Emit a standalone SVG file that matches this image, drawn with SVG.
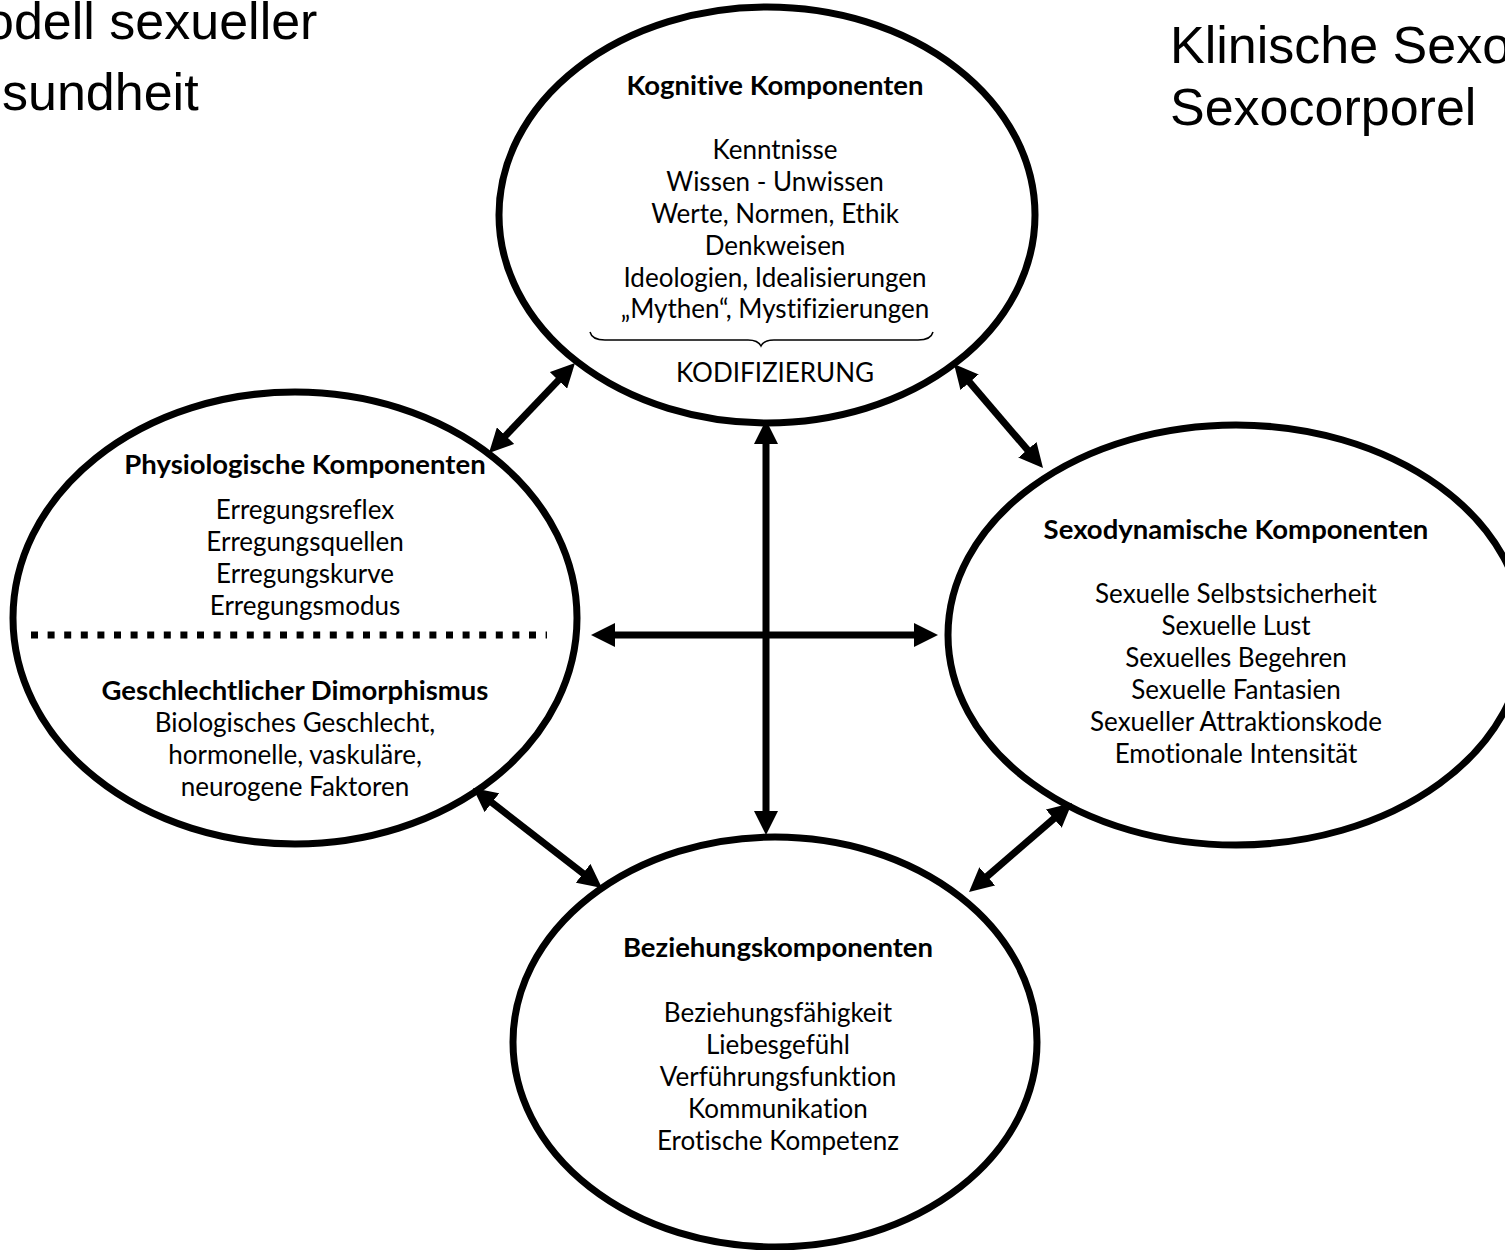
<svg xmlns="http://www.w3.org/2000/svg" width="1505" height="1250" viewBox="0 0 1505 1250">
<defs>
<marker id="ah" viewBox="0 0 24 24" refX="14" refY="12" markerWidth="24" markerHeight="24" markerUnits="userSpaceOnUse" orient="auto-start-reverse"><path d="M0,0 L24,12 L0,24 z" fill="#000"/></marker>
<style>
.node ellipse{fill:#fff;stroke:#000;stroke-width:7}
.t{font-family:Lato,"Open Sans","Liberation Sans",sans-serif;font-size:26px;text-anchor:middle;fill:#000;font-variant-ligatures:none}
.b{font-weight:bold;font-size:27.5px}
.title{font-family:"Liberation Sans",Arial,sans-serif;font-size:52px;fill:#000}
.conn line{stroke:#000;stroke-width:7;marker-start:url(#ah);marker-end:url(#ah)}
.dots{stroke:#000;stroke-width:7;stroke-dasharray:7 9.6}
.brace{fill:none;stroke:#000;stroke-width:1.5}
</style>
</defs>
<rect width="1505" height="1250" fill="#fff"/>
<g id="titles">
<text class="title" x="-15" y="39">odell sexueller</text>
<text class="title" x="2" y="110">sundheit</text>
<text class="title" x="1170" y="63">Klinische Sexo</text>
<text class="title" x="1170" y="125">Sexocorporel</text>
</g>
<g id="kognitiv" class="node">
<ellipse cx="767" cy="215" rx="268" ry="208"/>
<text class="t b" x="775" y="95">Kognitive Komponenten</text>
<text class="t" x="775" y="159">Kenntnisse</text>
<text class="t" x="775" y="191">Wissen - Unwissen</text>
<text class="t" x="775" y="223">Werte, Normen, Ethik</text>
<text class="t" x="775" y="255">Denkweisen</text>
<text class="t" x="775" y="287">Ideologien, Idealisierungen</text>
<text class="t" x="775" y="318">„Mythen“, Mystifizierungen</text>
<path class="brace" d="M590,332 Q592,340 605,340 L748,340 Q758,340 761,346 Q764,340 774,340 L918,340 Q931,340 933,332"/>
<text class="t" x="775" y="382">KODIFIZIERUNG</text>
</g>
<g id="physiologisch" class="node">
<ellipse cx="295" cy="618" rx="282" ry="226"/>
<text class="t b" x="305" y="474">Physiologische Komponenten</text>
<text class="t" x="305" y="519">Erregungsreflex</text>
<text class="t" x="305" y="551">Erregungsquellen</text>
<text class="t" x="305" y="583">Erregungskurve</text>
<text class="t" x="305" y="615">Erregungsmodus</text>
<line class="dots" x1="31" y1="635" x2="547" y2="635"/>
<text class="t b" x="295" y="700">Geschlechtlicher Dimorphismus</text>
<text class="t" x="295" y="732">Biologisches Geschlecht,</text>
<text class="t" x="295" y="764">hormonelle, vaskuläre,</text>
<text class="t" x="295" y="796">neurogene Faktoren</text>
</g>
<g id="sexodynamisch" class="node">
<ellipse cx="1236" cy="635" rx="288" ry="210"/>
<text class="t b" x="1236" y="539">Sexodynamische Komponenten</text>
<text class="t" x="1236" y="603">Sexuelle Selbstsicherheit</text>
<text class="t" x="1236" y="635">Sexuelle Lust</text>
<text class="t" x="1236" y="667">Sexuelles Begehren</text>
<text class="t" x="1236" y="699">Sexuelle Fantasien</text>
<text class="t" x="1236" y="731">Sexueller Attraktionskode</text>
<text class="t" x="1236" y="763">Emotionale Intensität</text>
</g>
<g id="beziehung" class="node">
<ellipse cx="775" cy="1042" rx="262" ry="205"/>
<text class="t b" x="778" y="957">Beziehungskomponenten</text>
<text class="t" x="778" y="1022">Beziehungsfähigkeit</text>
<text class="t" x="778" y="1054">Liebesgefühl</text>
<text class="t" x="778" y="1086">Verführungsfunktion</text>
<text class="t" x="778" y="1118">Kommunikation</text>
<text class="t" x="778" y="1150">Erotische Kompetenz</text>
</g>
<g id="connectors" class="conn">
<line x1="568.1" y1="370.2" x2="495.9" y2="445.8"/>
<line x1="960.5" y1="371.6" x2="1036.5" y2="460.4"/>
<line x1="766" y1="430" x2="766" y2="825"/>
<line x1="601" y1="635" x2="928" y2="635"/>
<line x1="480.9" y1="794.1" x2="594.1" y2="881.9"/>
<line x1="1064.4" y1="809.5" x2="976.6" y2="885.5"/>
</g>
</svg>
